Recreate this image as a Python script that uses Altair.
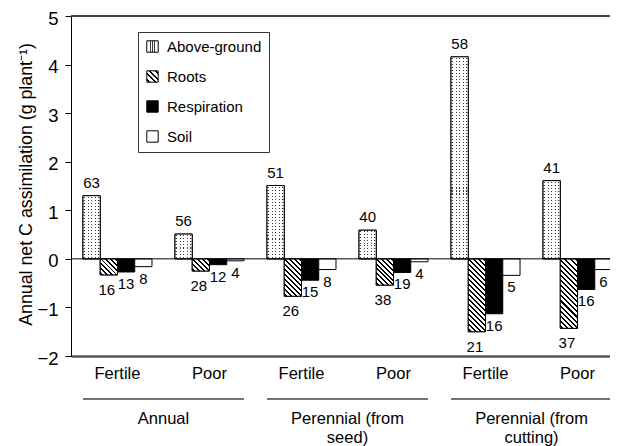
import json
import math
import altair as alt

# ---------------- data ----------------
groups = ["Annual", "Perennial (from seed)", "Perennial (from cutting)"]
soils = ["Fertile", "Poor"]
series = ["Above-ground", "Roots", "Respiration", "Soil"]

above_ground = [1.30, 0.51, 1.51, 0.59, 4.16, 1.61]
roots = [-0.33, -0.25, -0.77, -0.54, -1.50, -1.43]
respiration = [-0.27, -0.12, -0.44, -0.28, -1.13, -0.63]
soil = [-0.16, -0.04, -0.22, -0.06, -0.34, -0.22]

above_pct = [63, 56, 51, 40, 58, 41]
roots_pct = [16, 28, 26, 38, 21, 37]
resp_pct = [13, 12, 15, 19, 16, 16]
soil_pct = [8, 4, 8, 4, 5, 6]

y_ticks = [-2, -1, 0, 1, 2, 3, 4, 5]
y_title = "Annual net C assimilation (g plant\u207b\u00b9)"

# ---------------- layout ----------------
FONT = "Liberation Sans"
W, H = 539, 340
XR = 553
PAD_IN, PAD_OUT = 0.25, 0.13
STEP = XR / (6 - PAD_IN + 2 * PAD_OUT)
BW = STEP * (1 - PAD_IN)
BAR_W = BW / 4
PXU = H / (y_ticks[-1] - y_ticks[0])

conds = [f"{g}|{s}" for g in groups for s in soils]


def stripes(n, frac, dark, light):
    stops = []
    for i in range(n):
        a = i / n
        b = (i + (1 - frac) / 2) / n
        c = (i + (1 + frac) / 2) / n
        d = (i + 1) / n
        stops += [
            {"offset": round(a, 5), "color": light},
            {"offset": round(b, 5), "color": light},
            {"offset": round(b, 5), "color": dark},
            {"offset": round(c, 5), "color": dark},
            {"offset": round(c, 5), "color": light},
            {"offset": round(d, 5), "color": light},
        ]
    return stops


def hatch(w, h, period=3.6, frac=0.4):
    s = (w + h) / (w * w + h * h)
    n = max(1, round((w + h) / math.sqrt(2) / period))
    return {"gradient": "linear", "x1": 0, "y1": 1, "x2": s * w, "y2": (1 - s * h) or 1e-6,
            "stops": stripes(n, frac, "#000000", "#ffffff")}


def dots(h, period=3.0):
    n = max(1, round(h / period))
    return {"gradient": "linear", "x1": 0, "y1": 0, "x2": 1e-6, "y2": 1,
            "stops": stripes(n, 0.35, "rgba(255,255,255,0)", "#ffffff")}


ag_grad = {"gradient": "linear", "x1": 0, "y1": 0, "x2": 1, "y2": 0,
           "stops": stripes(5, 0.3, "#3a3a3a", "#ffffff")}
roots_legend_grad = {"gradient": "linear", "x1": 0, "y1": 1, "x2": 1, "y2": 1e-6,
                     "stops": stripes(4, 0.4, "#000000", "#ffffff")}

values = [above_ground, roots, respiration, soil]
pcts = [above_pct, roots_pct, resp_pct, soil_pct]
rows = []
for i, c in enumerate(conds):
    for j, s in enumerate(series):
        v = values[j][i]
        r = {"cond": c, "series": s, "value": v, "pct": pcts[j][i]}
        if s == "Roots":
            r["hatch"] = hatch(BAR_W, abs(v) * PXU)
        if s == "Above-ground":
            r["dots"] = dots(abs(v) * PXU)
        rows.append(r)

group_rows = []
for k, g in enumerate(groups):
    group_rows.append({"start": conds[2 * k], "end": conds[2 * k + 1],
                       "label": g.replace("(from ", "(from\n")})

data = alt.Data(values=rows)
base = alt.Chart(data)

x_scale = alt.Scale(domain=conds, range=[0, XR], paddingInner=PAD_IN, paddingOuter=PAD_OUT)
xo_scale = alt.Scale(domain=series, paddingInner=0, paddingOuter=0)
y_scale = alt.Scale(domain=[y_ticks[0], y_ticks[-1]], nice=False, zero=False)

x_enc = alt.X("cond:N", scale=x_scale, title=None,
              axis=alt.Axis(labelExpr="split(datum.value, '|')[1]", labelAngle=0,
                            ticks=False, tickSize=0, labelPadding=9, labelFontSize=16.5,
                            labelColor="black", domainColor="#555555", domainWidth=2.5,
                            grid=False))
y_axis = alt.Axis(values=y_ticks, format="d", tickSize=6, tickColor="black",
                  domainColor="black", labelPadding=7, labelFontSize=18.5,
                  labelOffset=2, labelColor="black", grid=False, titleFontSize=17.8,
                  titleFontWeight="normal", titleColor="black",
                  titleAngle=270, titleX=-40, titleY=168,
                  titleAlign="center", titleBaseline="alphabetic")


def yv():
    return alt.Y("value:Q", scale=y_scale, stack=None, title=y_title, axis=y_axis)


fill_scale = alt.Scale(domain=series, range=[
    alt.ExprRef(expr=json.dumps(ag_grad)),
    alt.ExprRef(expr=json.dumps(roots_legend_grad)),
    "#000000", "#ffffff"])

bars = base.mark_bar(stroke="black", strokeWidth=1).encode(
    x=x_enc,
    xOffset=alt.XOffset("series:N", scale=xo_scale),
    y=yv(),
    fill=alt.Fill("series:N", scale=fill_scale,
                  legend=alt.Legend(title=None, orient="none", legendX=67, legendY=16,
                                    padding=7, rowPadding=13, labelOffset=7,
                                    labelFontSize=15, labelColor="black",
                                    labelExpr="datum.label + '\u00a0\u00a0\u00a0'",
                                    symbolType="square", symbolSize=130,
                                    symbolStrokeColor="black", symbolStrokeWidth=1,
                                    strokeColor="#333333", fillColor="white")),
)

roots_over = base.transform_filter(alt.datum.series == "Roots").mark_bar(
    stroke="black", strokeWidth=1).encode(
    x=alt.X("cond:N", title=None), xOffset="series:N", y=yv(),
    fill=alt.Fill("hatch:N", scale=None, legend=None))

dots_over = base.transform_filter(alt.datum.series == "Above-ground").mark_bar(
    stroke="black", strokeWidth=1).encode(
    x=alt.X("cond:N", title=None), xOffset="series:N", y=yv(),
    fill=alt.Fill("dots:N", scale=None, legend=None))

zero_rule = alt.Chart(alt.Data(values=[{"value": 0}])).mark_rule(
    color="black", strokeWidth=1).encode(y=yv())
top_rule = alt.Chart(alt.Data(values=[{"value": y_ticks[-1]}])).mark_rule(
    color="#444444", strokeWidth=2).encode(y=yv())

txt = dict(font=FONT, fontSize=15, color="black")
ag_text = base.transform_filter(alt.datum.series == "Above-ground").mark_text(
    baseline="bottom", dy=-5, **txt).encode(
    x=alt.X("cond:N", title=None), xOffset="series:N", y=yv(), text="pct:Q")
roots_text = base.transform_filter(alt.datum.series == "Roots").mark_text(
    baseline="top", dy=8, dx=-2, **txt).encode(
    x=alt.X("cond:N", title=None), xOffset="series:N", y=yv(), text="pct:Q")
other_text = base.transform_filter(
    (alt.datum.series == "Respiration") | (alt.datum.series == "Soil")).mark_text(
    baseline="top", dy=5, **txt).encode(
    x=alt.X("cond:N", title=None), xOffset="series:N", y=yv(), text="pct:Q")

gbase = alt.Chart(alt.Data(values=group_rows))
g_rules = gbase.mark_rule(color="#444444", strokeWidth=1.5).encode(
    x=alt.X("start:N", bandPosition=0, title=None),
    x2=alt.X2("end:N", bandPosition=1),
    y=alt.value(383))
g_text = gbase.mark_text(baseline="top", lineBreak="\n", lineHeight=19,
                         font=FONT, fontSize=16.5, color="black",
                         dx=STEP * PAD_IN / 2).encode(
    x=alt.X("start:N", bandPosition=1, title=None),
    y=alt.value(395),
    text="label:N")

chart = alt.layer(bars, dots_over, roots_over, zero_rule, top_rule,
                  ag_text, roots_text, other_text, g_rules, g_text).properties(
    width=W, height=H,
    padding={"left": 63, "top": 8, "right": 0, "bottom": 90},
    autosize=alt.AutoSizeParams(type="none"),
).configure_view(stroke=None).configure_axis(
    labelFont=FONT, titleFont=FONT).configure_legend(labelFont=FONT)

chart.save("out.html", embed_options={"renderer": "svg", "actions": False})
